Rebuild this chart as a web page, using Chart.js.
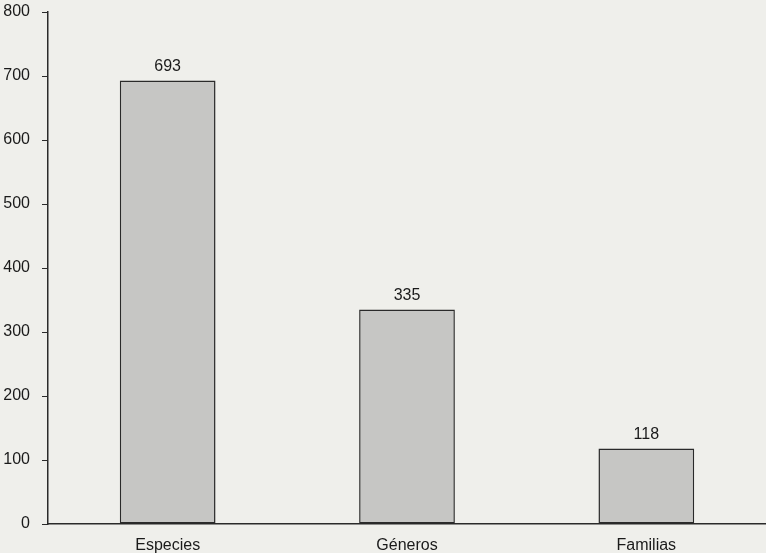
<!DOCTYPE html>
<html>
<head>
<meta charset="utf-8">
<script src="https://cdn.jsdelivr.net/npm/chart.js@4/dist/chart.umd.min.js"></script>
<style>
	html, body { margin: 0; padding: 0; background: #efefeb; }
	#wrap { width: 766px; height: 553px; }
</style>
</head>
<body>
<div id="wrap"><canvas id="taxa" width="766" height="553"></canvas></div>
<script>
const categories = ["Especies", "Géneros", "Familias"]
const counts = [693, 335, 118]
const yTicks = [0, 100, 200, 300, 400, 500, 600, 700, 800]

const fontFamily = "'Liberation Sans Narrow', 'Liberation Sans', Arial, sans-serif"

// draws the value over each bar
const valueLabels = {
	id: "valueLabels",
	afterDatasetsDraw(chart) {
		const ctx = chart.ctx
		ctx.save()
		ctx.font = "16px " + fontFamily
		ctx.fillStyle = "#1a1a1a"
		ctx.textAlign = "center"
		ctx.textBaseline = "bottom"
		chart.getDatasetMeta(0).data.forEach((bar, i) => {
			ctx.fillText(counts[i], bar.x, bar.y - 6)
		})
		ctx.restore()
	}
}

new Chart(document.getElementById("taxa").getContext("2d"), {
	type: "bar",
	data: {
		labels: categories,
		datasets: [
			{
				data: counts,
				backgroundColor: "#c6c6c4",
				borderColor: "#2a2a2a",
				borderWidth: 1.5,
				borderSkipped: false,
				barPercentage: 0.4,
				categoryPercentage: 1
			}
		]
	},
	options: {
		responsive: false,
		animation: false,
		layout: {
			padding: { top: 12, right: 0, left: 0, bottom: 0 }
		},
		scales: {
			y: {
				min: 0,
				max: 800,
				afterBuildTicks: (scale) => { scale.ticks = yTicks.map(v => ({ value: v })) },
				afterFit: (scale) => {
					scale.width = 48
					scale.paddingTop = 0
					scale.paddingBottom = 0
				},
				ticks: {
					color: "#1a1a1a",
					padding: 12,
					font: { family: fontFamily, size: 16 }
				},
				grid: {
					drawOnChartArea: false,
					tickLength: 6,
					color: "#2a2a2a"
				},
				border: {
					color: "#2a2a2a",
					width: 1.5
				}
			},
			x: {
				afterFit: (scale) => { scale.height = 29 },
				ticks: {
					color: "#1a1a1a",
					padding: 4,
					font: { family: fontFamily, size: 16 }
				},
				grid: {
					display: false
				},
				border: {
					color: "#2a2a2a",
					width: 1.5
				}
			}
		},
		plugins: {
			legend: { display: false },
			tooltip: { enabled: false }
		}
	},
	plugins: [valueLabels]
})
</script>
</body>
</html>
